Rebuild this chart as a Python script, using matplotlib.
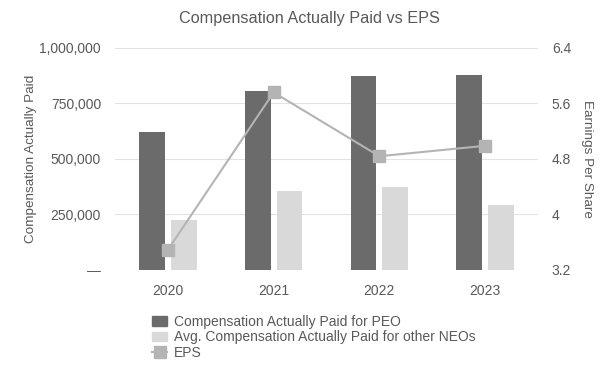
import matplotlib.pyplot as plt
import numpy as np
from matplotlib.ticker import FuncFormatter
from matplotlib.lines import Line2D
from matplotlib.patches import Patch

plt.rcParams['font.family'] = ['Liberation Sans', 'DejaVu Sans']

# data
years = ["2020", "2021", "2022", "2023"]
cap_peo = [620000, 805000, 872000, 880000]
cap_neo = [224000, 357000, 376000, 294000]
eps = [3.49, 5.76, 4.84, 4.99]

txt = "#595959"
peo_col = "#6b6b6b"
neo_col = "#d9d9d9"
eps_col = "#b4b4b4"

fig = plt.figure(figsize=(6.13, 3.8), dpi=100)
ax = fig.add_axes([0.1876, 0.2895, 0.69, 0.5842])
x = np.arange(len(years))

ax.bar(x - 0.15, cap_peo, width=0.245, color=peo_col, zorder=2)
ax.bar(x + 0.15, cap_neo, width=0.245, color=neo_col, zorder=2)
ax.set_xlim(-0.5, 3.5)
ax.set_ylim(0, 1000000)
ax.set_yticks([0, 250000, 500000, 750000, 1000000])
ax.yaxis.set_major_formatter(FuncFormatter(lambda v, p: "—" if v == 0 else f"{int(v):,}"))
ax.set_xticks(x)
ax.set_xticklabels(years)
ax.grid(axis="y", color="#e3e3e3", linewidth=0.8, zorder=0)
for s in ax.spines.values():
    s.set_visible(False)
ax.tick_params(length=0, colors=txt, labelsize=10, pad=10)
ax.set_ylabel("Compensation Actually Paid", color=txt, fontsize=9.7, labelpad=2)

ax2 = ax.twinx()
ax2.plot(x, eps, color=eps_col, linewidth=1.5, marker="s", markersize=8,
         markerfacecolor=eps_col, markeredgecolor=eps_col, zorder=3)
ax2.set_ylim(3.2, 6.4)
ax2.set_yticks([3.2, 4.0, 4.8, 5.6, 6.4])
ax2.set_yticklabels(["3.2", "4", "4.8", "5.6", "6.4"])
for s in ax2.spines.values():
    s.set_visible(False)
ax2.tick_params(length=0, colors=txt, labelsize=10, pad=10)
ax2.set_ylabel("Earnings Per Share", color=txt, fontsize=9.7, rotation=270, labelpad=16)

fig.suptitle("Compensation Actually Paid vs EPS", x=0.505, y=0.97, color=txt, fontsize=11.7)

handles = [
    Patch(color=peo_col, label="Compensation Actually Paid for PEO"),
    Patch(color=neo_col, label="Avg. Compensation Actually Paid for other NEOs"),
    Line2D([0], [0], color=eps_col, marker="s", markersize=8, linewidth=1.5, label="EPS"),
]
fig.legend(handles=handles, loc="upper left", bbox_to_anchor=(0.248, 0.172),
           frameon=False, fontsize=10, labelcolor=txt, handlelength=1.1,
           handletextpad=0.5, labelspacing=0.12, borderaxespad=0, borderpad=0)

fig.savefig("out.png", dpi=100)
